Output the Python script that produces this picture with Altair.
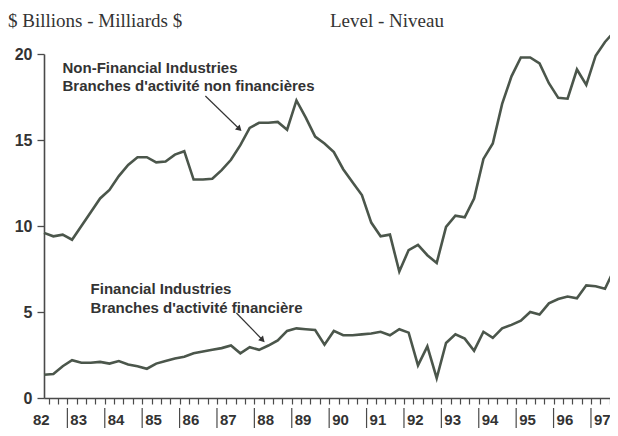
import altair as alt
import pandas as pd

# ---- data (quarterly, first point = 1982 Q2) ----
start_year = 1982
start_quarter = 2
non_financial = [9.6, 9.4, 9.5, 9.2, 10.0, 10.8, 11.6, 12.1, 12.9, 13.55,
                 14.0, 14.0, 13.7, 13.75, 14.15, 14.35, 12.7, 12.7, 12.75, 13.25,
                 13.85, 14.7, 15.7, 16.0, 16.0, 16.05, 15.6, 17.3, 16.3, 15.2,
                 14.8, 14.3, 13.3, 12.55, 11.8, 10.2, 9.4, 9.5, 7.35, 8.6,
                 8.9, 8.3, 7.85, 9.95, 10.6, 10.5, 11.6, 13.9, 14.8, 17.1,
                 18.7, 19.8, 19.8, 19.45, 18.3, 17.45, 17.4, 19.1, 18.2, 19.9,
                 20.7, 21.3, 21.8]
financial = [1.35, 1.4, 1.85, 2.2, 2.05, 2.05, 2.1, 2.0, 2.15, 1.95,
             1.85, 1.7, 2.0, 2.15, 2.3, 2.4, 2.6, 2.7, 2.8, 2.9,
             3.05, 2.6, 2.95, 2.8, 3.05, 3.35, 3.9, 4.05, 4.0, 3.95,
             3.1, 3.9, 3.65, 3.65, 3.7, 3.75, 3.85, 3.65, 4.0, 3.8,
             1.9, 3.0, 1.15, 3.2, 3.7, 3.45, 2.75, 3.85, 3.5, 4.05,
             4.25, 4.5, 5.0, 4.85, 5.5, 5.75, 5.9, 5.8, 6.55, 6.5,
             6.35, 7.5, 7.55]
years = list(range(1982, 1998))
year_labels = [f"{y % 100:02d}" for y in years]
y_ticks = [0, 5, 10, 15, 20]
title_left = "$ Billions - Milliards $"
title_right = "Level - Niveau"
nf_label = ["Non-Financial Industries", "Branches d'activité non financières"]
f_label = ["Financial Industries", "Branches d'activité financière"]

# ---- tables ----
t = [start_year + (start_quarter - 1 + i + 0.5) / 4 for i in range(len(non_financial))]
df = pd.concat([
    pd.DataFrame({"t": t, "value": non_financial, "series": "nf"}),
    pd.DataFrame({"t": t, "value": financial, "series": "f"}),
])

X_MIN, X_MAX = 1982.375, 1997.509
xs = alt.Scale(domain=[X_MIN, X_MAX], nice=False, zero=False)
ys = alt.Scale(domain=[0, 20], nice=False, zero=True)
quarter_ticks = [y + q / 4 for y in years for q in range(4) if X_MIN <= y + q / 4 <= X_MAX]

INK = "#4b564b"
TXT = "#333333"
AX = "#4a4a4a"

x_axis = alt.Axis(values=quarter_ticks, labels=False, tickSize=6, grid=False, title=None,
                  domainColor=AX, tickColor=AX, domainWidth=1.6, tickWidth=1.2)
y_axis = alt.Axis(values=y_ticks, grid=False, title=None, tickSize=7, labelPadding=5,
                  domainColor=AX, tickColor=AX, domainWidth=1.6, tickWidth=1.3,
                  labelFont="Liberation Sans", labelFontWeight="bold",
                  labelFontSize=16, labelColor=TXT)


def X(field):
    return alt.X(field, scale=xs, axis=x_axis)


def Y(field):
    return alt.Y(field, scale=ys, axis=y_axis)


line = alt.Chart(df).mark_line(color=INK, strokeWidth=2.6, clip=False).encode(
    x=X("t:Q"), y=Y("value:Q"), detail="series:N")

sep_df = pd.DataFrame({"t": years[1:]})
seps = alt.Chart(sep_df).mark_rule(color=AX, strokeWidth=1.2).encode(
    x=X("t:Q"), y=alt.value(354), y2=alt.value(380))

lab_df = pd.DataFrame({"t": [y + 0.08 for y in years], "label": year_labels})
labels = alt.Chart(lab_df).mark_text(align="left", baseline="middle", font="Liberation Sans",
                                     fontWeight="bold", fontSize=15, color=TXT).encode(
    x=X("t:Q"), y=alt.value(366), text="label:N")

ann_df = pd.DataFrame({
    "t": [1982.87, 1982.87, 1983.62, 1983.62],
    "v": [19.19, 18.14, 6.34, 5.23],
    "text": nf_label + f_label,
})
ann = alt.Chart(ann_df).mark_text(align="left", baseline="middle", font="Liberation Sans",
                                  fontWeight="bold", fontSize=15, color=TXT).encode(
    x=X("t:Q"), y=Y("v:Q"), text="text:N")

arr_df = pd.DataFrame({
    "t1": [1986.69, 1987.52], "v1": [17.56, 4.94],
    "t2": [1987.60, 1988.22], "v2": [15.64, 3.37],
    "ang": [44, 46],
})
arrows = alt.Chart(arr_df).mark_rule(color=TXT, strokeWidth=1.2).encode(
    x=X("t1:Q"), x2="t2:Q", y=Y("v1:Q"), y2="v2:Q")
heads = alt.Chart(arr_df).mark_point(shape="triangle-right", filled=True, size=45,
                                     color=TXT, opacity=1).encode(
    x=X("t2:Q"), y=Y("v2:Q"), angle=alt.Angle("ang:Q", scale=None))

title_l = alt.Chart(pd.DataFrame({"text": [title_left]})).mark_text(
    align="left", baseline="middle", font="Liberation Serif", fontSize=19, color=TXT).encode(
    x=alt.value(-36), y=alt.value(-33), text="text:N")
title_r = alt.Chart(pd.DataFrame({"text": [title_right]})).mark_text(
    align="left", baseline="middle", font="Liberation Serif", fontSize=19, color=TXT).encode(
    x=alt.value(286), y=alt.value(-33), text="text:N")

chart = alt.layer(line, seps, labels, ann, arrows, heads, title_l, title_r).properties(
    width=566, height=344, autosize="none",
    padding={"left": 36, "top": 46, "right": 0, "bottom": 30},
    background="white",
).configure_view(stroke=None)

chart.save("out.html", embed_options={"renderer": "svg", "actions": False})
